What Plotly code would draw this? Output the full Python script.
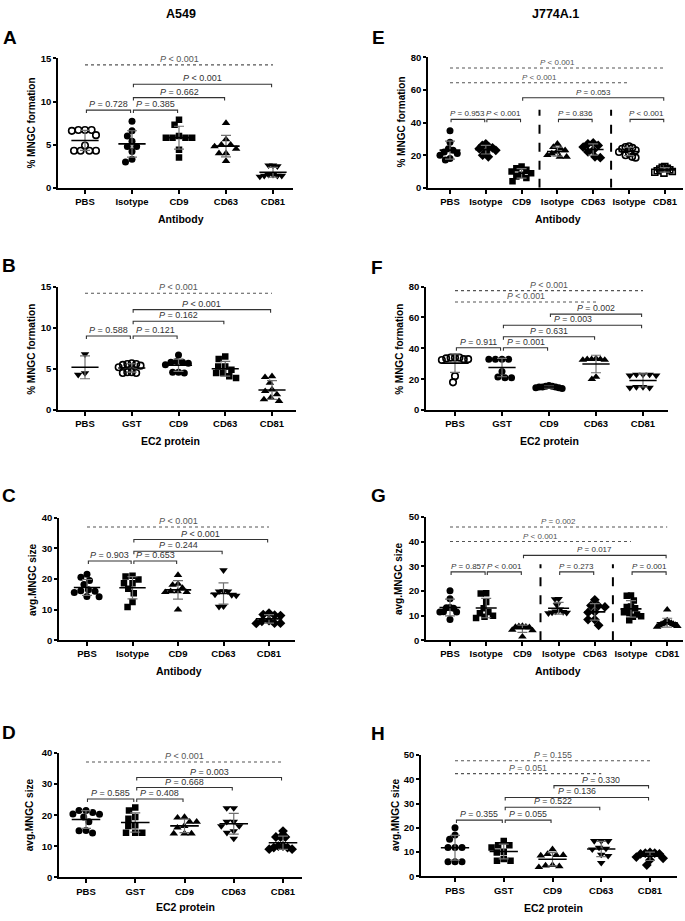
import math
import numpy as np
import plotly.graph_objects as go

# ---------------- DATA ----------------
A_cats = ["PBS", "Isotype", "CD9", "CD63", "CD81"]
A_PBS = [6.7, 6.1, 6.6, 6.7, 6.7, 4.9, 4.3, 4.3, 4.3, 4.3]
A_Iso = [7.7, 6.6, 6.0, 5.4, 4.8, 4.8, 4.2, 3.3, 3.0]
A_CD9 = [7.9, 7.3, 6.0, 5.8, 5.8, 5.8, 5.8, 4.4, 3.5]
A_CD63 = [7.5, 5.6, 5.0, 5.0, 4.8, 4.5, 4.0, 4.0, 3.1]
A_CD81 = [2.6, 2.6, 2.5, 1.5, 1.4, 1.4, 1.3, 1.4, 1.5]
A_cmp = [(0, 1, "= 0.728", 9.0, False), (1, 2, "= 0.385", 9.0, False),
         (1, 3, "= 0.662", 10.45, False), (1, 4, "< 0.001", 12.0, False),
         (0, 4, "< 0.001", 14.25, True)]

B_cats = ["PBS", "GST", "CD9", "CD63", "CD81"]
B_PBS = [6.8, 4.5, 4.3]
B_GST = [5.5, 5.6, 5.7, 5.6, 5.4, 4.6, 4.5, 4.5, 4.6, 5.2]
B_CD9 = [6.7, 5.9, 5.8, 5.8, 5.7, 5.5, 4.6, 4.5, 4.6]
B_CD63 = [6.5, 6.2, 5.3, 5.3, 4.9, 4.5, 4.5, 4.1, 3.9]
B_CD81 = [4.1, 4.0, 3.3, 2.5, 2.3, 1.9, 1.5, 1.1, 1.3]
B_cmp = [(0, 1, "= 0.588", 9.0, False), (1, 2, "= 0.121", 9.0, False),
         (1, 3, "= 0.162", 10.8, False), (1, 4, "< 0.001", 12.2, False),
         (0, 4, "< 0.001", 14.2, True)]

C_cats = ["PBS", "Isotype", "CD9", "CD63", "CD81"]
C_PBS = [21.6, 20.6, 19.5, 18.2, 16.5, 16.2, 16.0, 15.6, 14.3, 14.2]
C_Iso = [21.1, 20.8, 19.9, 18.6, 18.6, 16.8, 15.4, 12.5, 10.9]
C_CD9 = [21.3, 18.4, 18.1, 17.1, 16.0, 15.7, 15.7, 16.0, 10.0]
C_CD63 = [22.9, 16.1, 16.0, 16.0, 15.0, 14.8, 14.6, 11.1, 11.0]
C_CD81 = [8.9, 8.4, 8.2, 8.1, 6.4, 6.2, 5.6, 5.5, 5.6]
C_cmp = [(0, 1, "= 0.903", 25.9, False), (1, 2, "= 0.653", 25.9, False),
         (1, 3, "= 0.244", 29.1, False), (1, 4, "< 0.001", 32.9, False),
         (0, 4, "< 0.001", 37.0, True)]

D_cats = ["PBS", "GST", "CD9", "CD63", "CD81"]
D_PBS = [21.5, 20.9, 21.5, 20.4, 20.3, 19.4, 17.9, 15.1, 14.3, 15.0]
D_GST = [22.5, 21.5, 19.4, 18.9, 16.5, 16.8, 14.4, 14.4, 14.4]
D_CD9 = [19.4, 19.2, 17.9, 17.9, 16.5, 16.0, 14.1, 14.1, 14.1]
D_CD63 = [22.3, 22.3, 17.9, 17.9, 16.5, 16.5, 14.9, 14.4, 12.5]
D_CD81 = [14.9, 13.0, 13.0, 13.0, 10.1, 9.6, 9.1, 9.1, 9.6, 10.1]
D_cmp = [(0, 1, "= 0.585", 25.2, False), (1, 2, "= 0.408", 25.2, False),
         (1, 3, "= 0.668", 28.9, False), (1, 4, "= 0.003", 32.1, False),
         (0, 4, "< 0.001", 37.1, True)]

E_cats = ["PBS", "Isotype", "CD9", "Isotype", "CD63", "Isotype", "CD81"]
E_PBS = [35, 28, 24, 23, 22, 21, 20, 18, 17]
E_Iso1 = [27, 26, 25, 24.5, 24, 23, 22, 20, 19]
E_CD9 = [13, 12, 11, 10, 9, 8, 7, 6, 4]
E_Iso2 = [27, 25, 24, 23, 22, 21, 20, 19, 19]
E_CD63 = [27.5, 27, 26, 25, 23, 22, 19, 18.5]
E_Iso3 = [25.5, 25, 24.5, 24, 23, 22, 21, 20, 19, 18.5]
E_CD81 = [13, 12.5, 12, 11.5, 11, 10.5, 10, 9.5, 9]
E_cmp = [(0, 1, "= 0.953", 42, False), (1, 2, "< 0.001", 42, False),
         (3, 4, "= 0.836", 42, False), (5, 6, "< 0.001", 42, False),
         (2, 6, "= 0.053", 55.2, False), (0, 5, "< 0.001", 64.4, True),
         (0, 6, "< 0.001", 73.5, True)]

F_cats = ["PBS", "GST", "CD9", "CD63", "CD81"]
F_PBS = [34, 34, 33.5, 33, 33, 32.5, 34, 22, 18]
F_GST = [33, 33, 33, 33, 25, 21.5, 21, 21]
F_CD9 = [16, 15.5, 15, 15, 14.5, 14.5, 14, 15, 15.5]
F_CD63 = [33.5, 33, 33, 33, 32.5, 32.5, 21.5, 20]
F_CD81 = [23, 23, 22.5, 22.5, 23, 15, 14.5, 14.5, 15]
F_cmp = [(0, 1, "= 0.911", 40.4, False), (1, 2, "= 0.001", 40.4, False),
         (1, 3, "= 0.631", 47.5, False), (1, 4, "= 0.003", 55.0, False),
         (2, 4, "= 0.002", 62.2, False), (0, 3, "< 0.001", 70.0, True),
         (0, 4, "< 0.001", 77.4, True)]

G_cats = ["PBS", "Isotype", "CD9", "Isotype", "CD63", "Isotype", "CD81"]
G_PBS = [20.1, 16.8, 13.3, 13.0, 13.2, 11.5, 11.5, 11.6, 8.4]
G_Iso1 = [19.1, 19.0, 15.5, 13.0, 11.5, 11.0, 9.5, 9.0, 10.0]
G_CD9 = [5.8, 5.7, 5.5, 5.4, 5.3, 4.2, 4.0, 1.5]
G_Iso2 = [16.8, 16.7, 14.3, 12.5, 11.7, 11.5, 11.2, 11.0, 11.3]
G_CD63 = [16.4, 14.1, 14.0, 13.5, 11.5, 11.3, 8.4, 8.4, 6.1]
G_Iso3 = [18.2, 18.0, 16.1, 13.7, 13.0, 13.5, 11.1, 11.4, 10.5, 9.5, 8.1, 9.8]
G_CD81 = [12.4, 8.0, 7.5, 7.2, 7.0, 6.8, 6.5, 6.2, 6.0, 5.8, 5.5, 6.6]
G_cmp = [(0, 1, "= 0.857", 27.7, False), (1, 2, "< 0.001", 27.7, False),
         (3, 4, "= 0.273", 27.7, False), (5, 6, "= 0.001", 27.7, False),
         (2, 6, "= 0.017", 34.4, False), (0, 5, "< 0.001", 40.0, True),
         (0, 6, "= 0.002", 45.9, True)]

H_cats = ["PBS", "GST", "CD9", "CD63", "CD81"]
H_PBS = [20.1, 17.1, 15.3, 11.9, 11.9, 11.9, 6.1, 6.1, 6.1]
H_GST = [14.6, 12.9, 11.9, 12.9, 10.2, 9.9, 7.2, 6.5, 6.5]
H_CD9 = [11.2, 9.2, 8.8, 8.8, 8.6, 4.5, 3.8, 4.2, 4.7]
H_CD63 = [14.6, 14.6, 14.6, 11.9, 11.5, 11.2, 8.5, 5.6, 9.0]
H_CD81 = [9.9, 9.6, 9.3, 9.3, 9.6, 8.0, 7.5, 6.8, 4.7]
H_cmp = [(0, 1, "= 0.355", 23.2, False), (1, 2, "= 0.055", 23.2, False),
         (1, 3, "= 0.522", 28.5, False), (1, 4, "= 0.136", 32.5, False),
         (2, 4, "= 0.330", 37.4, False), (0, 3, "= 0.051", 42.3, True),
         (0, 4, "= 0.155", 47.6, True)]

# ---------------- LAYOUT ----------------
W, H = 685, 921
FONT = "Arial, 'Liberation Sans', Helvetica, sans-serif"

panels = [
    dict(letter="A", letter_pos=(10, 32), cats=A_cats,
         groups=[A_PBS, A_Iso, A_CD9, A_CD63, A_CD81],
         symbols=["circle-open", "circle", "square", "triangle-up", "triangle-down"],
         cmp=A_cmp, dom_x=(58, 293), dom_y=(53, 184), x_first=85, spacing=47,
         ymax=15, dtick=5, ytitle="% MNGC formation", xtitle="Antibody",
         xt_pos=(181, 216), yt_pos=(32, 118), seps=None, pfont=9),
    dict(letter="B", letter_pos=(9, 263), cats=B_cats,
         groups=[B_PBS, B_GST, B_CD9, B_CD63, B_CD81],
         symbols=["triangle-down", "circle-open", "circle", "square", "triangle-up"],
         cmp=B_cmp, dom_x=(58, 296), dom_y=(284, 409), x_first=85, spacing=46.75,
         ymax=15, dtick=5, ytitle="% MNGC formation", xtitle="EC2 protein",
         xt_pos=(170, 440), yt_pos=(32, 347), seps=None, pfont=9),
    dict(letter="C", letter_pos=(9, 495), cats=C_cats,
         groups=[C_PBS, C_Iso, C_CD9, C_CD63, C_CD81],
         symbols=["circle", "square", "triangle-up", "triangle-down", "diamond"],
         cmp=C_cmp, dom_x=(59, 295), dom_y=(518, 642), x_first=87, spacing=45.5,
         ymax=40, dtick=10, ytitle="avg.MNGC size", xtitle="Antibody",
         xt_pos=(179, 673), yt_pos=(32, 580), seps=None, pfont=9),
    dict(letter="D", letter_pos=(9, 735), cats=D_cats,
         groups=[D_PBS, D_GST, D_CD9, D_CD63, D_CD81],
         symbols=["circle", "square", "triangle-up", "triangle-down", "diamond"],
         cmp=D_cmp, dom_x=(59, 302), dom_y=(756, 882), x_first=86, spacing=49.25,
         ymax=40, dtick=10, ytitle="avg.MNGC size", xtitle="EC2 protein",
         xt_pos=(185, 912), yt_pos=(29, 819), seps=None, pfont=9),
    dict(letter="E", letter_pos=(379, 32), cats=E_cats,
         groups=[E_PBS, E_Iso1, E_CD9, E_Iso2, E_CD63, E_Iso3, E_CD81],
         symbols=["circle", "diamond", "square", "triangle-up", "diamond", "circle-open", "square-open"],
         cmp=E_cmp, dom_x=(428, 683), dom_y=(52, 184), x_first=450, spacing=35.8,
         ymax=80, dtick=20, ytitle="% MNGC formation", xtitle="Antibody",
         xt_pos=(558, 216), yt_pos=(402, 118), seps=(47.9,), pfont=8),
    dict(letter="F", letter_pos=(377, 265), cats=F_cats,
         groups=[F_PBS, F_GST, F_CD9, F_CD63, F_CD81],
         symbols=["circle-open", "circle", "circle", "triangle-up", "triangle-down"],
         cmp=F_cmp, dom_x=(426, 668), dom_y=(284, 409), x_first=455, spacing=47,
         ymax=80, dtick=20, ytitle="% MNGC formation", xtitle="EC2 protein",
         xt_pos=(549, 440), yt_pos=(400, 347), seps=None, pfont=8.8),
    dict(letter="G", letter_pos=(378, 495), cats=G_cats,
         groups=[G_PBS, G_Iso1, G_CD9, G_Iso2, G_CD63, G_Iso3, G_CD81],
         symbols=["circle", "square", "triangle-up", "triangle-down", "diamond", "square", "triangle-up"],
         cmp=G_cmp, dom_x=(426, 683), dom_y=(517, 642), x_first=450, spacing=36.2,
         ymax=50, dtick=10, ytitle="avg.MNGC size", xtitle="Antibody",
         xt_pos=(558, 673), yt_pos=(398, 580), seps=(30.8,), pfont=8),
    dict(letter="H", letter_pos=(378, 736), cats=H_cats,
         groups=[H_PBS, H_GST, H_CD9, H_CD63, H_CD81],
         symbols=["circle", "square", "triangle-up", "triangle-down", "diamond"],
         cmp=H_cmp, dom_x=(421, 677), dom_y=(758, 881), x_first=455, spacing=48.75,
         ymax=50, dtick=10, ytitle="avg.MNGC size", xtitle="EC2 protein",
         xt_pos=(553, 913), yt_pos=(395, 819), seps=None, pfont=8.8),
]


def fx(px):
    return px / W


def fy(py):
    return 1 - py / H


def swarm(vals, ppu, d, limit):
    """Beeswarm offsets (px); compressed to stay within +-limit px."""
    order = sorted(range(len(vals)), key=lambda k: -vals[k])
    placed, offs = [], [0.0] * len(vals)
    for k in order:
        y = vals[k] * ppu
        cands = [0.0]
        for px, py in placed:
            dy = abs(y - py)
            if dy < d:
                dx = math.sqrt(d * d - dy * dy)
                cands += [px + dx, px - dx]
        cands.sort(key=lambda c: (round(abs(c), 3), c))
        for c in cands:
            if all((c - px) ** 2 + (y - py) ** 2 >= d * d - 1e-6 for px, py in placed):
                offs[k] = c
                placed.append((c, y))
                break
    mx = max(abs(o) for o in offs) if offs else 0
    if mx > limit:
        offs = [o * limit / mx for o in offs]
    return offs


SIZES = {"circle": 7, "circle-open": 6.5, "square": 6.5, "square-open": 6,
         "triangle-up": 7.5, "triangle-down": 7.5, "diamond": 7.5}

fig = go.Figure()
axes = {}
annotations = []
shapes = []

for n, p in enumerate(panels, start=1):
    xa = "x" if n == 1 else f"x{n}"
    ya = "y" if n == 1 else f"y{n}"
    xname = "xaxis" if n == 1 else f"xaxis{n}"
    yname = "yaxis" if n == 1 else f"yaxis{n}"
    x0, x1 = p["dom_x"]
    top, bot = p["dom_y"]
    sp = p["spacing"]
    xr = [(x0 - p["x_first"]) / sp, (x1 - p["x_first"]) / sp]
    ppu = (bot - top) / p["ymax"]
    cats = p["cats"]

    axes[xname] = dict(domain=[fx(x0), fx(x1)], range=xr, anchor=ya,
                       tickmode="array", tickvals=list(range(len(cats))), ticktext=cats,
                       showline=True, linecolor="black", linewidth=1.5,
                       ticks="outside", ticklen=4, tickwidth=1.5, tickcolor="black",
                       tickfont=dict(family=FONT, size=9.5, color="black", weight="bold"),
                       showgrid=False, zeroline=False, fixedrange=True)
    axes[yname] = dict(domain=[fy(bot), fy(top)], range=[0, p["ymax"]], anchor=xa,
                       tickmode="linear", tick0=0, dtick=p["dtick"],
                       showline=True, linecolor="black", linewidth=1.5,
                       ticks="outside", ticklen=3, tickwidth=1.5, tickcolor="black",
                       tickfont=dict(family=FONT, size=9.5, color="black", weight="bold"),
                       showgrid=False, zeroline=False, fixedrange=True)

    limit = 0.28 * sp
    # points
    for g, (vals, sym) in enumerate(zip(p["groups"], p["symbols"])):
        offs = swarm(vals, ppu, 7.0, limit)
        is_open = sym.endswith("open")
        fig.add_trace(go.Scatter(
            x=[g + o / sp for o in offs], y=vals, mode="markers", xaxis=xa, yaxis=ya,
            marker=dict(symbol=sym, size=SIZES[sym], color="black",
                        line=dict(color="black", width=1.6 if is_open else 0)),
            showlegend=False, hoverinfo="skip"))
    # mean + SD
    for g, vals in enumerate(p["groups"]):
        m = float(np.mean(vals))
        sd = float(np.std(vals, ddof=1))
        fig.add_trace(go.Scatter(
            x=[g], y=[m], mode="markers", xaxis=xa, yaxis=ya,
            marker=dict(size=1, color="rgba(0,0,0,0)"),
            error_y=dict(type="data", array=[sd], symmetric=True, color="#707070",
                         thickness=1.2, width=5),
            showlegend=False, hoverinfo="skip"))
        fig.add_trace(go.Scatter(
            x=[g - 0.29, g + 0.29], y=[m, m], mode="lines", xaxis=xa, yaxis=ya,
            line=dict(color="black", width=1.6), showlegend=False, hoverinfo="skip"))
    # comparisons
    drop = 3.0 / ppu
    for (i, j, lab, yv, dotted) in p["cmp"]:
        if dotted:
            fig.add_trace(go.Scatter(
                x=[i, j], y=[yv, yv], mode="lines", xaxis=xa, yaxis=ya,
                line=dict(color="#555555", width=1.1, dash="dot"),
                showlegend=False, hoverinfo="skip"))
            col = "#555555"
        else:
            a, b = i + 0.03, j - 0.03
            fig.add_trace(go.Scatter(
                x=[a, a, b, b], y=[yv - drop, yv, yv, yv - drop], mode="lines",
                xaxis=xa, yaxis=ya, line=dict(color="#333333", width=1.1),
                showlegend=False, hoverinfo="skip"))
            col = "#333333"
        annotations.append(dict(
            x=(i + j) / 2, y=yv, xref=xa, yref=ya, text=f"<i>P</i> {lab}",
            showarrow=False, xanchor="center", yanchor="bottom", yshift=-1,
            font=dict(family=FONT, size=p["pfont"], color=col)))
    # separators
    if p["seps"]:
        for sx in (2.5, 4.5):
            shapes.append(dict(type="line", xref=xa, yref=ya, x0=sx, x1=sx,
                               y0=0, y1=p["seps"][0],
                               line=dict(color="black", width=2, dash="dash")))
    # titles
    annotations.append(dict(x=fx(p["xt_pos"][0]), y=fy(p["xt_pos"][1]), xref="paper", yref="paper",
                            text=p["xtitle"], showarrow=False, xanchor="center", yanchor="middle",
                            font=dict(family=FONT, size=10.5, color="black", weight="bold")))
    annotations.append(dict(x=fx(p["yt_pos"][0]), y=fy(p["yt_pos"][1]), xref="paper", yref="paper",
                            text=p["ytitle"], showarrow=False, xanchor="center", yanchor="middle",
                            textangle=-90,
                            font=dict(family=FONT, size=10, color="black", weight="bold")))
    annotations.append(dict(x=fx(p["letter_pos"][0]), y=fy(p["letter_pos"][1]), xref="paper", yref="paper",
                            text=p["letter"], showarrow=False, xanchor="center", yanchor="middle",
                            font=dict(family=FONT, size=19, color="black", weight="bold")))

for txt, pos in (("A549", (181, 8)), ("J774A.1", (555, 8))):
    annotations.append(dict(x=fx(pos[0]), y=fy(pos[1]), xref="paper", yref="paper",
                            text=txt, showarrow=False, xanchor="center", yanchor="middle",
                            font=dict(family=FONT, size=12.5, color="black", weight="bold")))

fig.update_layout(width=W, height=H, margin=dict(l=0, r=0, t=0, b=0),
                  paper_bgcolor="white", plot_bgcolor="white",
                  showlegend=False, annotations=annotations, shapes=shapes,
                  font=dict(family=FONT), **axes)

fig.write_html("out.html", config={"displayModeBar": False},
               post_script="document.body.style.margin='0';document.body.style.padding='0';"
                           "document.documentElement.style.overflow='hidden';")
